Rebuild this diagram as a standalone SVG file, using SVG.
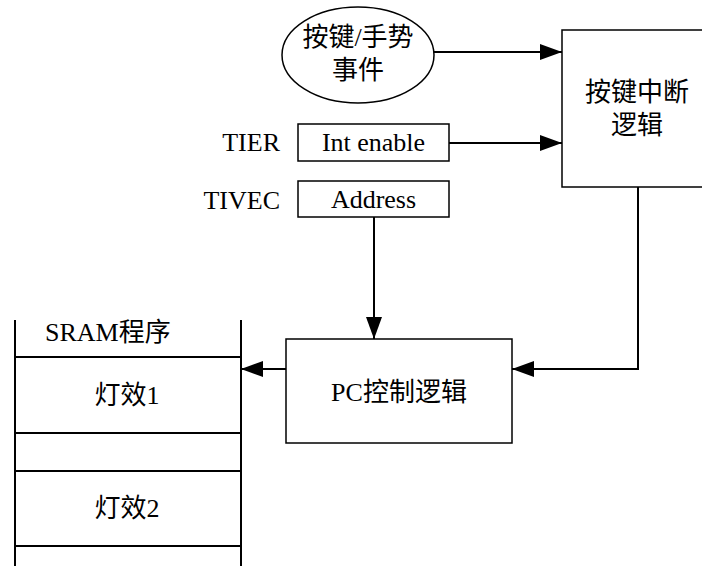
<svg xmlns="http://www.w3.org/2000/svg" width="702" height="566" viewBox="0 0 702 566">
<defs>
<style>
.t{font-family:"Liberation Serif","Noto Sans CJK SC",serif;font-size:26px;fill:#000}
.m{text-anchor:middle}
.e{text-anchor:end}
.b{fill:#fff;stroke:#000;stroke-width:1.5}
.c{fill:none;stroke:#000;stroke-width:2}
</style>
<marker id="ah" markerUnits="userSpaceOnUse" markerWidth="24" markerHeight="16" refX="22" refY="8" orient="auto">
<path d="M0,0 L22,8 L0,16 Z" fill="#000"/>
</marker>
</defs>
<rect width="702" height="566" fill="#fff"/>
<g id="event">
<ellipse class="b" cx="358" cy="55" rx="76" ry="48"/>
<text class="t m" x="358" y="46">按键/手势</text>
<text class="t m" x="358" y="79">事件</text>
</g>
<g id="keyint">
<rect class="b" x="562" y="30" width="152" height="157"/>
<text class="t m" x="637" y="101">按键中断</text>
<text class="t m" x="637" y="134">逻辑</text>
</g>
<g id="tier">
<text class="t e" x="280" y="151">TIER</text>
<rect class="b" x="298" y="124" width="151" height="37"/>
<text class="t m" x="373.5" y="151">Int enable</text>
</g>
<g id="tivec">
<text class="t e" x="280" y="209">TIVEC</text>
<rect class="b" x="298" y="181" width="151" height="36"/>
<text class="t m" x="373.5" y="208">Address</text>
</g>
<g id="pc">
<rect class="b" x="286" y="339" width="226" height="104"/>
<text class="t m" x="399" y="401">PC控制逻辑</text>
</g>
<g id="sram">
<path class="c" d="M15,320 V566 M241,320 V566 M15,357 H241 M15,433 H241 M15,471 H241 M15,546 H241" stroke-width="1.5"/>
<text class="t" x="45" y="341">SRAM程序</text>
<text class="t m" x="127" y="404">灯效1</text>
<text class="t m" x="127" y="517">灯效2</text>
</g>
<g id="connectors">
<path class="c" d="M434,52 H562" marker-end="url(#ah)"/>
<path class="c" d="M449,143 H562" marker-end="url(#ah)"/>
<path class="c" d="M374,217 V339" marker-end="url(#ah)"/>
<path class="c" d="M638,187 V369 H512" marker-end="url(#ah)"/>
<path class="c" d="M286,369 H241" marker-end="url(#ah)"/>
</g>
</svg>
